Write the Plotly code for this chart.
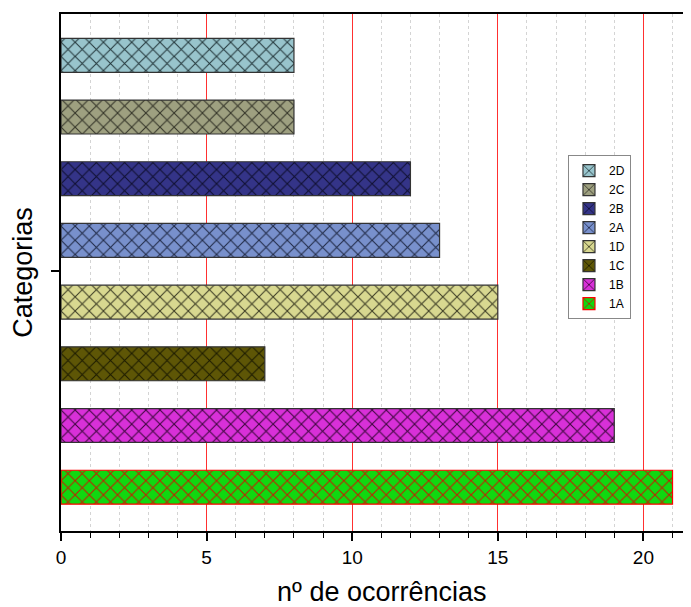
import plotly.graph_objects as go

categories = ["1A", "1B", "1C", "1D", "2A", "2B", "2C", "2D"]
values = [21, 19, 7, 15, 13, 12, 8, 8]
major_ticks = [0, 5, 10, 15, 20]
minor_ticks = [1, 2, 3, 4, 6, 7, 8, 9, 11, 12, 13, 14, 16, 17, 18, 19, 21]
x_title = "nº de ocorrências"
y_title = "Categorias"
fill_colors = ["#10d810", "#d830d8", "#5e5606", "#d8d890", "#7890cc", "#343488", "#9ea080", "#98c4cc"]
line_colors = ["#ff0000", "#333333", "#333333", "#333333", "#333333", "#333333", "#333333", "#333333"]
pattern_colors = ["#e00000", "#200020", "#101000", "#202010", "#101830", "#080820", "#202018", "#102024"]
positions = list(range(len(categories)))

fig = go.Figure()
for cat, val, pos, fc, lc, pc in zip(categories, values, positions, fill_colors, line_colors, pattern_colors):
    fig.add_trace(go.Bar(
        x=[val], y=[pos], name=cat, orientation="h", width=0.55,
        marker=dict(color=fc, line=dict(color=lc, width=1.2),
                    pattern=dict(shape="x", fgcolor=pc, bgcolor=fc, size=10, solidity=0.2, fgopacity=0.85)),
    ))

fig.add_annotation(text=x_title, xref="paper", yref="paper", x=0.509, y=0,
                   xanchor="center", yanchor="middle", yshift=-61, showarrow=False,
                   font=dict(size=27, color="black"))

fig.update_layout(
    width=683, height=599,
    margin=dict(l=53, r=1, t=6, b=76),
    plot_bgcolor="white", paper_bgcolor="white",
    barmode="overlay", showlegend=True,
    font=dict(family="Liberation Sans, Arial, sans-serif", color="black"),
    legend=dict(x=0.806, y=0.727, xanchor="left", yanchor="top",
                traceorder="reversed", bgcolor="white", bordercolor="#888888", borderwidth=1,
                font=dict(size=12), itemwidth=30, tracegroupgap=0),
    xaxis=dict(range=[0, 21.6], tickvals=major_ticks, ticks="outside", ticklen=8, tickwidth=1.5,
               tickcolor="black", showline=True, linecolor="black", linewidth=2, mirror=True,
               showgrid=True, gridcolor="#ff3030", gridwidth=1.3, zeroline=False, automargin=False,
               tickfont=dict(size=19),
               minor=dict(tickvals=minor_ticks, ticks="outside", ticklen=5, tickwidth=1.2, tickcolor="black",
                          showgrid=True, gridcolor="#d4d4d4", griddash="dot", gridwidth=1)),
    yaxis=dict(range=[-0.71, 7.67], tickvals=[3.5], ticktext=[""], ticks="outside", ticklen=8,
               tickwidth=1.5, tickcolor="black", showline=True, linecolor="black", linewidth=2,
               showgrid=False, zeroline=False, automargin=False,
               title=dict(text=y_title, font=dict(size=27), standoff=14)),
)

fig.write_html("out.html")
